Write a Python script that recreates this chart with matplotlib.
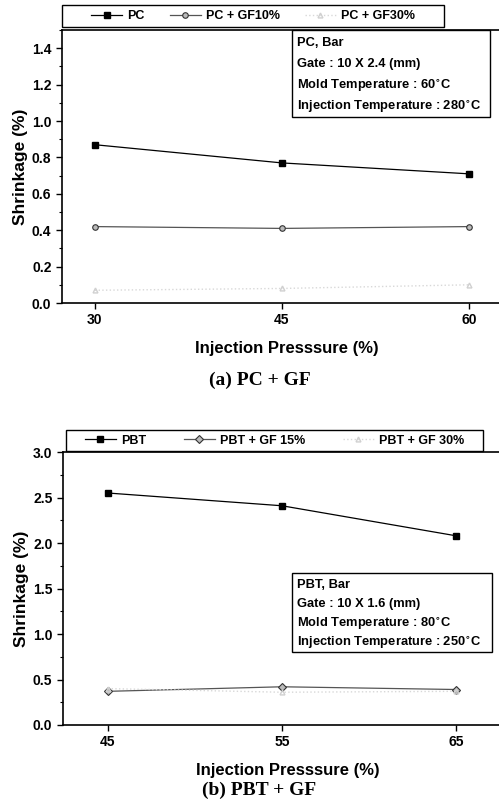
import numpy as np
import matplotlib
matplotlib.use("Agg")
import matplotlib.pyplot as plt
from matplotlib.ticker import MultipleLocator

plt.rcParams['font.family'] = ['Liberation Sans', 'DejaVu Sans']
plt.rcParams['font.weight'] = 'bold'

# ---- data (a) PC + GF
pc_x = [30, 45, 60]
pc = [0.87, 0.77, 0.71]
pc_gf10 = [0.42, 0.41, 0.42]
pc_gf30 = [0.07, 0.08, 0.10]
pc_labels = ["PC", "PC + GF10%", "PC + GF30%"]
pc_info = ["PC, Bar", "Gate : 10 X 2.4 (mm)", "Mold Temperature : 60$^{\\circ}$C",
           "Injection Temperature : 280$^{\\circ}$C"]

# ---- data (b) PBT + GF
pbt_x = [45, 55, 65]
pbt = [2.55, 2.41, 2.08]
pbt_gf15 = [0.37, 0.42, 0.39]
pbt_gf30 = [0.40, 0.36, 0.37]
pbt_labels = ["PBT", "PBT + GF 15%", "PBT + GF 30%"]
pbt_info = ["PBT, Bar", "Gate : 10 X 1.6 (mm)", "Mold Temperature : 80$^{\\circ}$C",
            "Injection Temperature : 250$^{\\circ}$C"]

fig = plt.figure(figsize=(4.99, 8.05), dpi=100)


def panel(rect, x, s1, s2, s3, labels, info, xlim, ylim, ymaj, ymin, m2,
          leg_box, info_box, caption, cap_y, colsp):
    ax = fig.add_axes(rect)
    ax.plot(x, s1, '-', color='black', lw=0.9, marker='s', ms=4.5, label=labels[0])
    ax.plot(x, s2, '-', color='#555555', lw=0.9, marker=m2, ms=4,
            mfc='#bbbbbb', mec='#333333', mew=0.8, label=labels[1])
    ax.plot(x, s3, ':', color='#d8d8d8', lw=1.0, marker='^', ms=3.5,
            mfc='none', mec='#d0d0d0', label=labels[2])
    ax.set_xlim(*xlim)
    ax.set_ylim(*ylim)
    ax.set_xticks(x)
    ax.yaxis.set_major_locator(MultipleLocator(ymaj))
    ax.yaxis.set_minor_locator(MultipleLocator(ymin))
    ax.yaxis.set_major_formatter(plt.FormatStrFormatter('%.1f'))
    ax.tick_params(direction='out', labelsize=10, width=1, length=4)
    ax.tick_params(which='minor', direction='out', length=2.5, width=0.8)
    for s in ax.spines.values():
        s.set_linewidth(1.2)
    ax.set_ylabel("Shrinkage (%)", fontsize=12.5, fontweight='bold', labelpad=3)
    ax.set_xlabel("Injection Presssure (%)", fontsize=12, fontweight='bold', labelpad=10)
    # legend box above the axes
    bx, by, bw, bh = leg_box
    ax.add_patch(plt.Rectangle((bx, by), bw, bh, transform=ax.transAxes, fill=True,
                               fc='white', ec='black', lw=1.0, clip_on=False))
    ax.legend(ncol=3, loc='center', bbox_to_anchor=(bx + bw / 2, by + bh / 2),
              frameon=False, fontsize=9, handlelength=2.5, borderaxespad=0,
              borderpad=0, handletextpad=0.4, columnspacing=colsp)
    # info text box
    x0, y0, w, h = info_box
    ax.add_patch(plt.Rectangle((x0, y0), w, h, transform=ax.transAxes,
                               fill=True, fc='white', ec='black', lw=1.0, zorder=5,
                               clip_on=False))
    for i, t in enumerate(info):
        ax.text(x0 + 0.012, y0 + h - (i + 0.6) * h / 4.1, t, transform=ax.transAxes,
                fontsize=9.3, fontweight='bold', va='center', ha='left', zorder=6)
    fig.text(0.52, cap_y, caption, ha='center', va='center', fontsize=14,
             fontweight='bold', family=['Liberation Serif', 'DejaVu Serif'])
    return ax


panel([0.124, 0.6236, 0.9, 0.339], pc_x, pc, pc_gf10, pc_gf30, pc_labels, pc_info,
      (27.35, 63.37), (0, 1.5), 0.2, 0.1, 'o',
      (0.0, 1.011, 0.851, 0.08), (0.512, 0.681, 0.441, 0.319),
      "(a) PC + GF", 1 - 380 / 805, 2.0)

panel([0.126, 0.0994, 0.9, 0.339], pbt_x, pbt, pbt_gf15, pbt_gf30, pbt_labels, pbt_info,
      (42.41, 68.22), (0, 3.0), 0.5, 0.25, 'D',
      (0.0067, 1.004, 0.929, 0.076), (0.51, 0.267, 0.445, 0.29),
      "(b) PBT + GF", 1 - 790 / 805, 3.0)

fig.savefig("out.png", dpi=100)
